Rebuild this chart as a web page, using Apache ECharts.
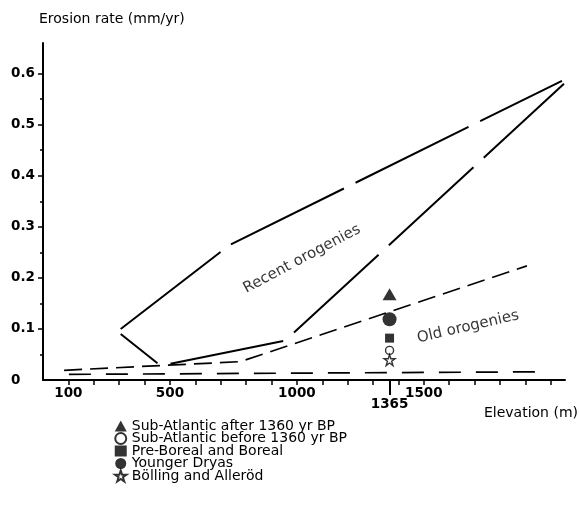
<!DOCTYPE html>
<html>
<head>
<meta charset="utf-8">
<title>Erosion rate vs elevation</title>
<script src="https://cdn.jsdelivr.net/npm/echarts@6/dist/echarts.min.js"></script>
<style>
    html, body { margin: 0; padding: 0; background: #fff; }
    #chart { width: 579px; height: 510px; }
</style>
</head>
<body>
<div id="chart"></div>
<script>
// x 轴刻度 (m)
const xTicks = [100, 200, 300, 400, 500, 600, 700, 800, 900, 1000, 1100, 1200, 1300, 1400, 1500, 1600, 1700, 1800, 1900, 2000];
const xLabels = [100, 500, 1000, 1500];
const siteElevation = [1365];
// y 轴刻度 (mm/yr)
const yTicks = [0.1, 0.2, 0.3, 0.4, 0.5, 0.6];
const yLabels = [0, 0.1, 0.2, 0.3, 0.4, 0.5, 0.6];
const yMinorTicks = [0.05, 0.15, 0.25, 0.35, 0.45, 0.55];

// 曲线 [elevation, erosion rate]
const recentUpper = [[306, 0.100], [737, 0.265], [2044, 0.586]];
const recentLower = [[306, 0.090], [463, 0.028], [954, 0.077], [2052, 0.580]];
const oldUpper = [[83, 0.019], [778, 0.036], [1906, 0.2235]];
const oldLower = [[102, 0.011], [1938, 0.016]];

// 1365 m 处的测点
const subAtlanticAfter = [[1365, 0.168]];
const subAtlanticBefore = [[1365, 0.058]];
const preBoreal = [[1365, 0.082]];
const youngerDryas = [[1365, 0.119]];
const bolling = [[1365, 0.039]];

// 文字标注位置
const recentLabelAt = [[1020, 0.237]];
const oldLabelAt = [[1674, 0.104]];

const textFont = 'DejaVu Sans';
const star = 'path://M50,2 L61,36 L97,36 L68,57 L79,92 L50,71 L21,92 L32,57 L3,36 L39,36 Z';

const chart = echarts.init(document.getElementById('chart'));

function lineSeries(data, dash, offset, width) {
    return {
        type: 'line',
        data: data,
        showSymbol: false,
        silent: true,
        xAxisIndex: 0,
        yAxisIndex: 0,
        lineStyle: { color: '#000', width: width, type: dash, dashOffset: offset || 0, cap: 'butt' }
    };
}

function pointSeries(name, data, symbol, size, fill) {
    return {
        name: name,
        type: 'scatter',
        data: data,
        symbol: symbol,
        symbolSize: size,
        z: 5,
        itemStyle: { color: fill, borderColor: '#000', borderWidth: fill === '#fff' ? 1.4 : 0 }
    };
}

function textSeries(data, text, angle) {
    return {
        type: 'scatter',
        data: data,
        symbolSize: 0,
        silent: true,
        label: {
            show: true, position: 'inside', formatter: text, rotate: angle,
            color: '#000', fontFamily: textFont, fontSize: 15
        }
    };
}

const tickLabelStyle = {
    color: '#000', fontFamily: 'DejaVu Sans', fontWeight: 'bold', fontSize: 13.5,
    formatter: v => String(v)
};

chart.setOption({
    animation: false,
    backgroundColor: '#fff',
    title: [
        { text: 'Erosion rate (mm/yr)', left: 34, top: 7,
          textStyle: { fontFamily: textFont, fontSize: 14, fontWeight: 'normal', color: '#000' } },
        { text: 'Elevation (m)', right: -4, top: 401,
          textStyle: { fontFamily: textFont, fontSize: 14, fontWeight: 'normal', color: '#000' } }
    ],
    grid: { left: 43, right: 14, top: 43, bottom: 130 },
    legend: {
        orient: 'vertical',
        left: 109,
        top: 414,
        itemWidth: 12,
        itemHeight: 11,
        itemGap: -1.5,
        selectedMode: false,
        textStyle: { fontFamily: textFont, fontSize: 14, color: '#000', lineHeight: 12 },
        data: ['Sub-Atlantic after 1360 yr BP', 'Sub-Atlantic before 1360 yr BP',
            'Pre-Boreal and Boreal', 'Younger Dryas', 'Bölling and Alleröd']
    },
    xAxis: [{
        type: 'value', min: 0, max: 2056, interval: 100,
        splitLine: { show: false },
        axisLine: { lineStyle: { color: '#000', width: 2 } },
        axisTick: { customValues: xTicks, length: 5, lineStyle: { color: '#000', width: 1.5 } },
        axisLabel: Object.assign({ customValues: xLabels, margin: 6 }, tickLabelStyle)
    }, {
        type: 'value', min: 0, max: 2056, interval: 100, position: 'bottom',
        splitLine: { show: false },
        axisLine: { show: false },
        axisTick: { customValues: siteElevation, length: 15, lineStyle: { color: '#000', width: 2 } },
        axisLabel: Object.assign({ customValues: siteElevation, margin: 17 }, tickLabelStyle)
    }],
    yAxis: [{
        type: 'value', min: 0, max: 0.66, interval: 0.1,
        splitLine: { show: false },
        axisLine: { show: true, lineStyle: { color: '#000', width: 2 } },
        axisTick: { show: true, customValues: yTicks, length: 5, lineStyle: { color: '#000', width: 1.5 } },
        axisLabel: Object.assign({}, tickLabelStyle, {
            customValues: yLabels, margin: 32, align: 'left',
            formatter: v => (v === 0 ? '0' : v.toFixed(1))
        })
    }, {
        type: 'value', min: 0, max: 0.66, interval: 0.1, position: 'left',
        splitLine: { show: false },
        axisLine: { show: false },
        axisTick: { show: true, customValues: yMinorTicks, length: 3, lineStyle: { color: '#000', width: 1.5 } },
        axisLabel: { show: false }
    }],
    series: [
        lineSeries(recentUpper, [126, 13], 0, 2),
        lineSeries(recentLower, [115, 14], 68, 2),
        lineSeries(oldUpper, [18, 8], 0, 1.7),
        lineSeries(oldLower, [22, 15], 0, 1.7),
        pointSeries('Sub-Atlantic after 1360 yr BP', subAtlanticAfter, 'triangle', [14, 12], '#000'),
        pointSeries('Sub-Atlantic before 1360 yr BP', subAtlanticBefore, 'circle', 8, '#fff'),
        pointSeries('Pre-Boreal and Boreal', preBoreal, 'rect', 9, '#000'),
        pointSeries('Younger Dryas', youngerDryas, 'circle', 14, '#000'),
        pointSeries('Bölling and Alleröd', bolling, star, 11, '#fff'),
        textSeries(recentLabelAt, 'Recent orogenies', 28),
        textSeries(oldLabelAt, 'Old orogenies', 13)
    ]
});
</script>
</body>
</html>
